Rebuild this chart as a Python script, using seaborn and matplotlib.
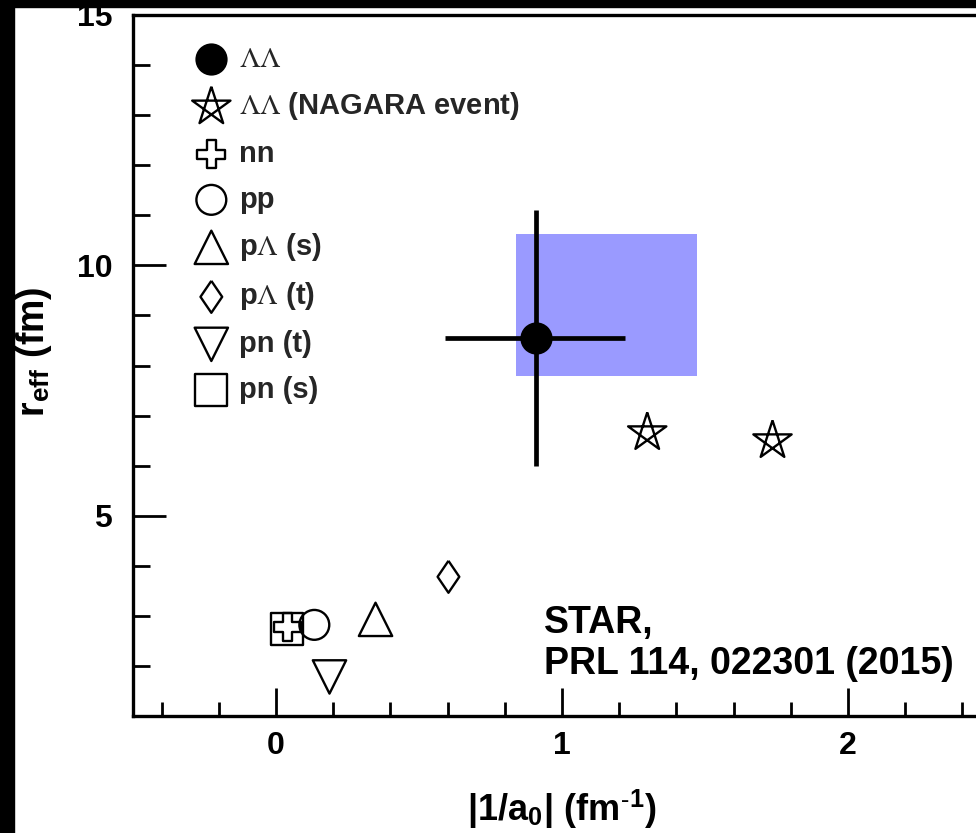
import numpy as np
import pandas as pd
import seaborn as sns
import matplotlib
matplotlib.use("Agg")
import matplotlib.pyplot as plt
from matplotlib.patches import Rectangle
from matplotlib.path import Path

# ---------------- data ----------------
labels = [r"$\Lambda\Lambda$", r"$\Lambda\Lambda$ (NAGARA event)", "nn", "pp",
          r"p$\Lambda$ (s)", r"p$\Lambda$ (t)", "pn (t)", "pn (s)"]
ll_x = [0.91]
ll_y = [8.55]
ll_xerr_lo = [0.32]
ll_xerr_hi = [0.31]
ll_yerr_lo = [2.55]
ll_yerr_hi = [2.55]
sys_x = [0.84, 1.473]
sys_y = [7.79, 10.63]
nagara_x = [1.298, 1.736]
nagara_y = [6.66, 6.50]
nn_x, nn_y = [0.04], [2.78]
pp_x, pp_y = [0.134], [2.82]
pls_x, pls_y = [0.348], [2.93]
plt_x, plt_y = [0.603], [3.78]
pnt_x, pnt_y = [0.187], [1.78]
pns_x, pns_y = [0.038], [2.73]
xticks = [0, 1, 2]
yticks = [5, 10, 15]

# ---------------- style ----------------
sns.set_theme(style="ticks")
plt.rcParams["font.family"] = ["Liberation Sans", "DejaVu Sans"]
plt.rcParams["mathtext.fontset"] = "custom"
plt.rcParams["mathtext.rm"] = "STIXGeneral:weight=normal"
plt.rcParams["mathtext.bf"] = "Liberation Sans:bold"
plt.rcParams["mathtext.default"] = "rm"

W, H = 976, 833
fig = plt.figure(figsize=(W / 100, H / 100), dpi=100)
fig.patch.set_facecolor("white")
ax = fig.add_axes([133 / W, (H - 716) / H, 858 / W, 701 / H])
ax.set_facecolor("white")

# black strips at top and left of picture
fig.patches.append(Rectangle((0, 1 - 7 / H), 1, 7 / H, transform=fig.transFigure,
                             color="black", zorder=10))
fig.patches.append(Rectangle((0, 0), 14 / W, 1, transform=fig.transFigure,
                             color="black", zorder=10))

# systematic box
ax.fill_between(sys_x, sys_y[0], sys_y[1], color="#9a9aff", lw=0, zorder=1)
# error bars
ax.errorbar(ll_x, ll_y, xerr=[ll_xerr_lo, ll_xerr_hi], yerr=[ll_yerr_lo, ll_yerr_hi],
            fmt="none", ecolor="black", elinewidth=3.4, capsize=0, zorder=2)

# pentagram marker
ang = np.deg2rad(90 + 144 * np.arange(6))
star_marker = Path(np.column_stack([np.cos(ang), np.sin(ang)]))
diamond_marker = [(0, 1), (0.68, 0), (0, -1), (-0.68, 0), (0, 1)]

specs = [
    (ll_x, ll_y, "o", 21.5, "black", labels[0]),
    (nagara_x, nagara_y, star_marker, 29, "none", labels[1]),
    (pns_x, pns_y, "s", 23, "none", labels[7]),
    (nn_x, nn_y, "P", 20, "none", labels[2]),
    (pp_x, pp_y, "o", 21.5, "none", labels[3]),
    (pls_x, pls_y, "^", 24, "none", labels[4]),
    (plt_x, plt_y, diamond_marker, 23, "none", labels[5]),
    (pnt_x, pnt_y, "v", 24, "none", labels[6]),
]
hmap = {}
for xs, ys, m, ms, fc, lab in specs:
    df = pd.DataFrame({"x": xs, "y": ys})
    sns.scatterplot(data=df, x="x", y="y", marker=m, s=ms ** 2,
                    facecolor=fc, edgecolor="black", linewidth=1.7, ax=ax, zorder=3,
                    label=lab, legend=False, clip_on=False)
    hmap[lab] = ax.collections[-1]
handles = [hmap[l] for l in labels]

leg = ax.legend(handles=handles, labels=labels, loc="upper left",
                bbox_to_anchor=(188 / W, 1 - 45 / H), bbox_transform=fig.transFigure,
                frameon=False, borderpad=0, handlelength=1.6,
                handletextpad=0.15, labelspacing=0.6, scatterpoints=1,
                borderaxespad=0, prop={"family": "Liberation Sans", "weight": "bold", "size": 21})

ax.set_xlim(-0.5, 2.5)
ax.set_ylim(1, 15)
ax.set_xticks(xticks)
ax.set_yticks(yticks)
ax.set_xticks(np.arange(-0.4, 2.5, 0.2), minor=True)
ax.set_yticks(np.arange(2, 15, 1), minor=True)
ax.tick_params(which="major", direction="in", length=20, width=2, labelsize=23,
               color="black", labelcolor="black")
ax.tick_params(axis="x", which="major", pad=11)
ax.tick_params(axis="y", which="major", pad=15, length=24)
ax.tick_params(which="minor", direction="in", length=10, width=2, color="black")
ax.tick_params(axis="y", which="minor", length=12)
for lab in ax.get_xticklabels() + ax.get_yticklabels():
    lab.set_fontweight("bold")
for sp in ["left", "bottom", "top", "right"]:
    ax.spines[sp].set_linewidth(2.4)
    ax.spines[sp].set_color("black")

ax.set_xlabel(r"|1/a$_{\mathbf{0}}$| (fm$^{\mathbf{\text{-}1}}$)", fontsize=26,
              fontweight="bold", color="black")
ax.xaxis.set_label_coords(0.5, (716 - 787) / 701)
ax.set_ylabel(r"r$_{\mathbf{eff}}$ (fm)", fontsize=27, fontweight="bold", color="black")
ax.yaxis.set_label_coords((54 - 133) / 858, (716 - 352) / 701)

ax.text(0.938, 3.22, "STAR,\nPRL 114, 022301 (2015)", fontsize=27,
        fontweight="bold", ha="left", va="top", linespacing=1.18, color="black")

fig.savefig("out.png", dpi=100, facecolor="white")
